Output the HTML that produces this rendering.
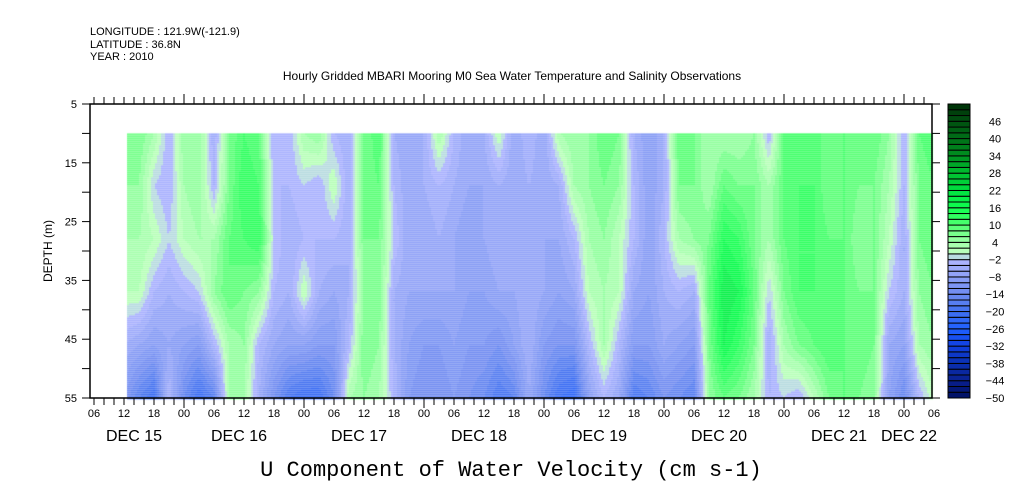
<!DOCTYPE html>
<html><head><meta charset="utf-8">
<style>
body{margin:0;background:#fff;width:1009px;height:504px;overflow:hidden;position:relative;font-family:"Liberation Sans",sans-serif}
#hm{position:absolute;left:0;top:0}
svg{position:absolute;left:0;top:0}
</style></head><body>
<canvas id="hm" width="1009" height="504"></canvas>
<svg id="s" width="1009" height="504"></svg>
<script>
// data: hours since Dec 15 00:00, depth levels (m), U velocity rows per column
const hours=[12,15,18,21,24,27,30,33,36,39,42,45,48,51,54,57,60,63,66,69,72,75,78,81,84,87,90,93,96,99,102,105,108,111,114,117,120,123,126,129,132,135,138,141,144,147,150,153,156,159,162,165,168,171,174];
const depths=[10,19,28,37,46,55];
const values=[
[8,6,4,2,-6,-12],[8,6,4,2,-8,-18],[4,-2,2,-4,-10,-22],[-4,-4,-2,-6,-8,-4],[6,4,2,-4,-10,-16],
[6,6,4,-2,-12,-22],[-6,-4,4,6,-4,-18],[8,8,10,10,4,4],[12,14,12,8,6,4],[10,12,14,6,-4,-6],
[-4,-4,-2,-4,-8,-14],[-4,-4,-6,-6,-10,-20],[4,-2,-4,2,-10,-22],[6,-4,-4,-6,-12,-22],[-4,2,-4,-8,-12,-16],
[-6,-6,-6,-6,-4,4],[8,8,8,6,8,6],[12,10,8,8,6,4],[-6,-4,-2,-6,-6,-4],[-8,-8,-8,-8,-10,-12],
[-6,-6,-8,-8,-12,-14],[4,-4,-6,-8,-12,-14],[-4,-6,-8,-8,-10,-12],[-8,-8,-10,-10,-12,-14],[-6,-8,-8,-10,-12,-16],
[2,-6,-6,-8,-14,-20],[-8,-8,-8,-8,-10,-18],[-4,-6,-6,-6,-6,-8],[-8,-8,-8,-8,-12,-16],[4,-6,-8,-10,-14,-22],
[6,4,-4,-8,-14,-24],[6,6,4,2,-4,-10],[10,8,6,4,4,-4],[8,6,2,2,-4,-8],[-6,-4,-4,-8,-12,-20],
[-10,-10,-10,-10,-12,-18],[-6,-6,-4,-6,-8,-14],[10,8,4,-4,-10,-16],[8,8,6,-6,-12,-18],[4,4,8,10,8,6],
[4,10,16,20,18,10],[4,8,14,18,14,8],[6,8,8,10,8,4],[-4,4,4,-2,-6,-4],[10,10,10,8,4,-2],
[12,12,12,12,8,-4],[10,12,12,12,10,2],[10,8,10,12,12,8],[10,10,10,10,10,10],[8,8,6,8,10,8],
[10,8,8,8,8,6],[6,4,2,-2,-8,-10],[-4,-4,-6,-6,-10,-16],[10,8,8,6,4,-4],[12,10,10,8,6,2]];
const hourTicks=["06","12","18","00","06","12","18","00","06","12","18","00","06","12","18","00","06","12","18","00","06","12","18","00","06","12","18","00","06"];
const dayLabels=["DEC 15","DEC 16","DEC 17","DEC 18","DEC 19","DEC 20","DEC 21","DEC 22"];
const dayHours=[14,35,59,83,107,131,155,169];
const depthTicks=[5,15,25,35,45,55];
const cbLabels=[46,40,34,28,22,16,10,4,-2,-8,-14,-20,-26,-32,-38,-44,-50];

const X0=90,X1=932,Y0=104,Y1=398;
const xs=h=>64+5*h;
const ys=d=>Y0+(d-5)*(Y1-Y0)/50;
const vmin=-50,vmax=52,step=2;
const stops=[[-50,[0,16,96]],[-44,[10,32,144]],[-38,[10,48,176]],[-32,[16,64,224]],[-26,[32,96,255]],[-20,[64,112,240]],[-14,[110,139,240]],[-8,[140,159,245]],[-2,[176,182,255]],[0,[192,255,192]],[4,[160,255,168]],[10,[80,255,112]],[16,[16,255,80]],[22,[0,224,64]],[28,[0,192,48]],[34,[0,144,32]],[40,[0,112,24]],[46,[0,80,16]],[52,[0,48,8]]];
function col(v){
  let q=Math.floor(v/step)*step+1;
  if(q<vmin)q=vmin+1;if(q>vmax)q=vmax-1;
  for(let i=0;i<stops.length-1;i++){const a=stops[i],b=stops[i+1];
    if(q>=a[0]&&q<=b[0]){const t=(q-a[0])/(b[0]-a[0]);
      return 'rgb('+a[1].map((c,k)=>Math.round(c+(b[1][k]-c)*t)).join(',')+')';}}
  return 'rgb(0,48,8)';
}
const ctx=document.getElementById('hm').getContext('2d');
const xa=Math.max(X0,xs(12.6)),xb=X1,ya=ys(depths[0]),yb=ys(depths[depths.length-1]);
function valAt(h,d){
  let i=0;while(i<hours.length-2&&h>hours[i+1])i++;
  let j=0;while(j<depths.length-2&&d>depths[j+1])j++;
  let tx=(h-hours[i])/(hours[i+1]-hours[i]);tx=Math.max(0,Math.min(1,tx));
  let ty=(d-depths[j])/(depths[j+1]-depths[j]);ty=Math.max(0,Math.min(1,ty));
  const a=values[i][j],b=values[i+1][j],c=values[i][j+1],e=values[i+1][j+1];
  return (a*(1-tx)+b*tx)*(1-ty)+(c*(1-tx)+e*tx)*ty;
}
for(let x=xa;x<xb;x+=2){for(let y=ya;y<yb;y+=2){
  const h=(x+1-64)/5,d=5+(y+1-Y0)*50/(Y1-Y0);
  ctx.fillStyle=col(valAt(h,d));ctx.fillRect(x,y,2,2);}}
const S=document.getElementById('s'),NS='http://www.w3.org/2000/svg';
function el(t,a,txt){const e=document.createElementNS(NS,t);for(const k in a)e.setAttribute(k,a[k]);if(txt!==undefined)e.textContent=txt;S.appendChild(e);return e;}
let e;
e=el('rect',{x:X0,y:Y0,width:X1-X0,height:Y1-Y0,fill:'none',stroke:'#000','stroke-width':1.5});

for(let h=6;h<=173;h+=2){const x=xs(h);const big=(h%24===0);
  el('line',{x1:x,x2:x,y1:Y1,y2:Y1+(big?10:7),stroke:'#000'});
  el('line',{x1:x,x2:x,y1:Y0,y2:Y0-(big?10:7),stroke:'#000'});}
hourTicks.forEach((t,i)=>{e=el('text',{x:xs(6+6*i),y:417,'font-size':11,'text-anchor':'middle'},t);
  });
dayLabels.forEach((t,i)=>{e=el('text',{x:xs(dayHours[i]),y:441,'font-size':16,'text-anchor':'middle'},t);
  });
for(let d=5;d<=55;d+=5){const y=ys(d);el('line',{x1:X0-8,x2:X0,y1:y,y2:y,stroke:'#000'});el('line',{x1:X1,x2:X1+8,y1:y,y2:y,stroke:'#000'});}
depthTicks.forEach(d=>{e=el('text',{x:77,y:ys(d)+4,'font-size':11,'text-anchor':'end'},d);
  });
e=el('text',{x:0,y:0,'font-size':12,'text-anchor':'middle',transform:'translate(52,251) rotate(-90)'},'DEPTH (m)');

const CB0=948,CB1=970,nb=(vmax-vmin)/step,bh=(Y1-Y0)/nb;
for(let k=0;k<nb;k++){const v=vmin+k*step;
  e=el('rect',{x:CB0,y:Y1-(k+1)*bh,width:CB1-CB0,height:bh,fill:col(v+0.5),stroke:'#000','stroke-width':1});
  }
cbLabels.forEach(v=>{const y=Y1-(v-vmin)/step*bh;
  e=el('text',{x:995,y:y+4,'font-size':11,'text-anchor':'middle'},v<0?'\u2212'+(-v):v);
  });
[['LONGITUDE : 121.9W(-121.9)',35],['LATITUDE : 36.8N',48],['YEAR : 2010',60]].forEach(a=>{
  e=el('text',{x:90,y:a[1],'font-size':11},a[0]);});
e=el('text',{x:512,y:80,'font-size':12,'text-anchor':'middle'},'Hourly Gridded MBARI Mooring M0 Sea Water Temperature and Salinity Observations');

e=el('text',{x:511,y:476,'font-size':22,'text-anchor':'middle','font-family':'Liberation Mono, monospace'},'U Component of Water Velocity (cm s-1)');

</script>
</body></html>
